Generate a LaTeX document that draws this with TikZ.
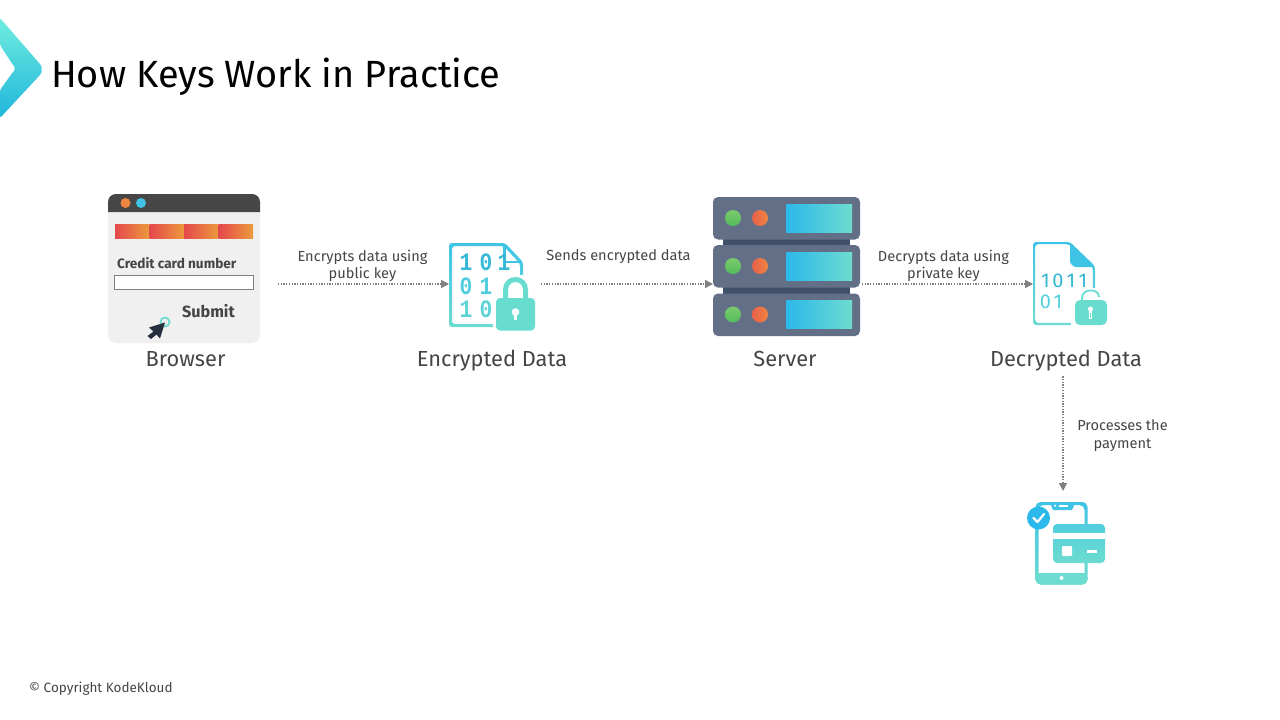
\documentclass[tikz,border=0pt]{standalone}
\usepackage{fontspec}
\setmainfont{Fira Sans}
\newfontfamily\digitfont{Liberation Mono}
\usetikzlibrary{arrows.meta}
\definecolor{inktext}{HTML}{454545}
\definecolor{dotline}{HTML}{808080}
\definecolor{serverbody}{HTML}{636F87}
\definecolor{serverjoin}{HTML}{3F5068}
\definecolor{skyc}{HTML}{2BB8EA}
\definecolor{iconsky}{HTML}{3FC3E6}
\definecolor{tealc}{HTML}{6DDCD0}
\definecolor{lockc}{HTML}{68DDCF}
\definecolor{logotop}{HTML}{6FECDF}
\definecolor{logobot}{HTML}{1FB6DB}
\definecolor{barred}{HTML}{E5484D}
\definecolor{barorange}{HTML}{EC9A3C}
\definecolor{greenl}{HTML}{7ACB6A}
\definecolor{greend}{HTML}{55BB5F}
\definecolor{orangel}{HTML}{F0853F}
\definecolor{oranged}{HTML}{E8604C}
\definecolor{cursorc}{HTML}{262F3E}
\tikzset{
  x=1pt,y=-1pt,
  iconbox/.style={inner sep=0pt,outer sep=0pt,draw=none},
  flowline/.style={draw=dotline,line width=1.4pt,dash pattern=on 1.3pt off 1.4pt,-{Triangle[length=8pt,width=8pt,fill=dotline,color=dotline,sep=0pt]}},
  flowtext/.style={text=inktext,font=\fontsize{14.6}{17.4}\selectfont,align=center,inner sep=0pt},
  icontext/.style={text=inktext,font=\fontsize{21.8}{24}\selectfont,inner sep=0pt,anchor=base},
  rack/.style={fill=serverbody,rounded corners=5pt},
  screen/.style={left color=skyc,right color=tealc,shading angle=90},
  slabdigit/.style={inner sep=0pt,anchor=base,font=\digitfont\bfseries\fontsize{25}{25}\selectfont,xscale=.85,transform shape},
  thindigit/.style={inner sep=0pt,anchor=base,font=\fontsize{20}{20}\selectfont},
}
\begin{document}
\begin{tikzpicture}
\useasboundingbox (0,0) rectangle (1280,720);
% logo
\shade[top color=logotop,bottom color=logobot,even odd rule,rounded corners=1.5pt]
  (0,18) -- (40,64) .. controls (42,67) and (42,72) .. (40,75) -- (0,118) -- (0,90) -- (13,72) .. controls (15,70) and (15,67) .. (13,65) -- (0,45) -- cycle;
\node[anchor=base west,inner sep=0pt,text=black,font=\fontsize{37.9}{40}\selectfont] (title) at (51,87.6) {How Keys Work in Practice};
% browser
\node[iconbox,minimum width=170pt,minimum height=180pt] (browser) at (193,284) {};
\fill[fill=black!6,rounded corners=8pt] (108,194) rectangle (260,343);
\fill[fill=black!72] (108,212) [rounded corners=8pt] -- (108,194) -- (260,194) [sharp corners] -- (260,212) -- cycle;
\fill[orangel] (125.5,203) circle (5);
\fill[iconsky] (141,203) circle (5);
\foreach \xa in {115,149.5,184,218.5}{\shade[left color=barred,right color=barorange] (\xa,224) rectangle ++(34.5,14);}
\node[anchor=base west,inner sep=0pt,text=inktext,font=\fontsize{13.6}{16}\selectfont\bfseries] (ccn) at (117,268) {Credit card number};
\node[draw=black!50,fill=white,line width=.8pt,minimum width=139pt,minimum height=14pt,inner sep=0pt,anchor=north west] (field) at (114,274.5) {};
\node[anchor=base east,inner sep=0pt,text=inktext,font=\fontsize{16.2}{18}\selectfont\bfseries] (submit) at (235,317) {Submit};
\draw[tealc,line width=1.8pt] (165,322) circle (4.5);
\fill[cursorc] (165,322.5) -- (149,327.5) -- (153.5,331.5) -- (147.5,336) -- (151,339) -- (156.5,334.5) -- (160,338.5) -- cycle;
\node[icontext] (browserlabel) at (185.5,366.5) {Browser};
% encrypted document
\node[iconbox,minimum width=92pt,minimum height=90pt] (enc) at (495,284) {};
\shade[top color=iconsky,bottom color=tealc,even odd rule,rounded corners=3pt]
  (449,243) -- (505,243) -- (523,262) -- (523,327) -- (449,327) -- cycle
  (452,246) -- (503.5,246) -- (520,263.5) -- (520,324) -- (452,324) -- cycle;
\draw[iconsky,line width=2.2pt,line join=round] (504.5,244) -- (504.5,262) -- (522,262);
\fill[white] (493,275) rectangle (537,333);
\node[slabdigit,text=iconsky!85!teal] (e1) at (466,270.5) {1};
\node[slabdigit,text=iconsky!85!teal] (e2) at (486,270.5) {0};
\node[slabdigit,text=iconsky!85!teal] (e3) at (504,270.5) {1};
\node[slabdigit,text=iconsky!60!tealc] (e4) at (466,294) {0};
\node[slabdigit,text=iconsky!60!tealc] (e5) at (486,294) {1};
\node[slabdigit,text=iconsky!35!tealc] (e6) at (466,317.5) {1};
\node[slabdigit,text=iconsky!35!tealc] (e7) at (486,317.5) {0};
\draw[lockc,line width=5pt] (505.5,300) -- (505.5,290) .. controls (505.5,276) and (525.5,276) .. (525.5,290) -- (525.5,300);
\fill[lockc,rounded corners=4pt] (496,298) rectangle (535,330.5);
\fill[white] (515.5,312) circle (3.8);
\fill[white] (514,313) rectangle (517,320);
\node[icontext] (enclabel) at (492,366.5) {Encrypted Data};
% server
\node[iconbox,minimum width=149pt,minimum height=140pt] (server) at (787.5,284) {};
\fill[serverjoin] (723,236) rectangle (850,247);
\fill[serverjoin] (723,285) rectangle (850,295);
\foreach \ya in {197,245,293.5}{
  \fill[rack] (713,\ya) rectangle ++(147,42.5);
  \shade[screen] (786,\ya+7) rectangle ++(66,28);
  \shade[top color=greenl,bottom color=greend] (733,\ya+21) circle (8);
  \shade[left color=oranged,right color=orangel] (760,\ya+21) circle (8);
}
\node[icontext] (serverlabel) at (785,366.5) {Server};
% decrypted document
\node[iconbox,minimum width=74pt,minimum height=84pt] (dec) at (1070,284) {};
\shade[top color=iconsky,bottom color=tealc,even odd rule,rounded corners=3pt]
  (1033,242) -- (1070,242) -- (1095,266) -- (1095,325) -- (1033,325) -- cycle
  (1035.2,244.2) -- (1069,244.2) -- (1092.8,267) -- (1092.8,322.8) -- (1035.2,322.8) -- cycle;
\fill[iconsky,rounded corners=1.5pt] (1070,243) -- (1095,267) -- (1074,267) -- (1070,263) -- cycle;
\fill[white] (1071,288) rectangle (1110,327);
\node[thindigit,text=iconsky!80!teal] (d1) at (1045.5,287) {1};
\node[thindigit,text=iconsky!80!teal] (d2) at (1058,287) {0};
\node[thindigit,text=iconsky!80!teal] (d3) at (1071,287) {1};
\node[thindigit,text=iconsky!80!teal] (d4) at (1083,287) {1};
\node[thindigit,text=iconsky!55!tealc] (d5) at (1045.5,308) {0};
\node[thindigit,text=iconsky!55!tealc] (d6) at (1058,308) {1};
\draw[lockc,line width=1.8pt] (1082,302) -- (1082,298) .. controls (1082,288) and (1099,288) .. (1099,297);
\fill[lockc,rounded corners=5pt] (1075,300) rectangle (1107,325);
\fill[white] (1090.5,309) circle (2.5);
\fill[white] (1088.8,310) rectangle (1092.2,319);
\fill[lockc] (1090,313) rectangle (1091,317.5);
\node[icontext] (declabel) at (1066,366.5) {Decrypted Data};
% phone
\node[iconbox,minimum width=70pt,minimum height=94pt] (phone) at (1063,538) {};
\shade[top color=iconsky,bottom color=tealc,even odd rule,rounded corners=5pt]
  (1035.5,502) -- (1087.5,502) -- (1087.5,584.5) -- (1035.5,584.5) -- cycle
  (1038.5,505) -- (1084.5,505) -- (1084.5,581.5) -- (1038.5,581.5) -- cycle;
\fill[tealc] (1036,573) rectangle (1087,580);
\shade[top color=tealc,bottom color=tealc,rounded corners=5pt] (1035.5,573) rectangle (1087.5,584.5);
\fill[white] (1061.5,578) circle (2);
\fill[iconsky] (1050,503) -- (1075,503) -- (1072,510) -- (1053,510) -- cycle;
\fill[white] (1055,505.7) circle (1.2);
\fill[white] (1059,505) rectangle (1068,506.8);
\fill[skyc] (1038.5,518) circle (11.5);
\draw[white,line width=2.2pt,line cap=round,line join=round] (1033.5,518) -- (1037.5,522) -- (1044,514);
\shade[top color=iconsky!60!tealc,bottom color=tealc,rounded corners=4pt] (1053,524) rectangle (1105,563);
\fill[white] (1053,533) rectangle (1105,539);
\fill[white,rounded corners=1pt] (1062,546) rectangle (1072,556);
\fill[white] (1087,550) rectangle (1097,552.5);
% connectors
\draw[flowline] (browser.east) -- (enc.west);
\draw[flowline] (enc.east) -- (server.west);
\draw[flowline] (server.east) -- (dec.west);
\draw[flowline] (declabel.south -| phone.north) ++(0,5) -- (phone.north);
% connector labels
\node[flowtext] (lab1) at (362.5,265.6) {Encrypts data using\\public key};
\node[flowtext] (lab2) at (618.5,256.2) {Sends encrypted data};
\node[flowtext] (lab3) at (943.5,265.6) {Decrypts data using\\private key};
\node[flowtext] (lab4) at (1122.5,435.6) {Processes the\\payment};
\node[anchor=base west,inner sep=0pt,text=inktext,font=\fontsize{13.5}{14}\selectfont] (copy) at (29,692) {© Copyright KodeKloud};
\end{tikzpicture}
\end{document}
